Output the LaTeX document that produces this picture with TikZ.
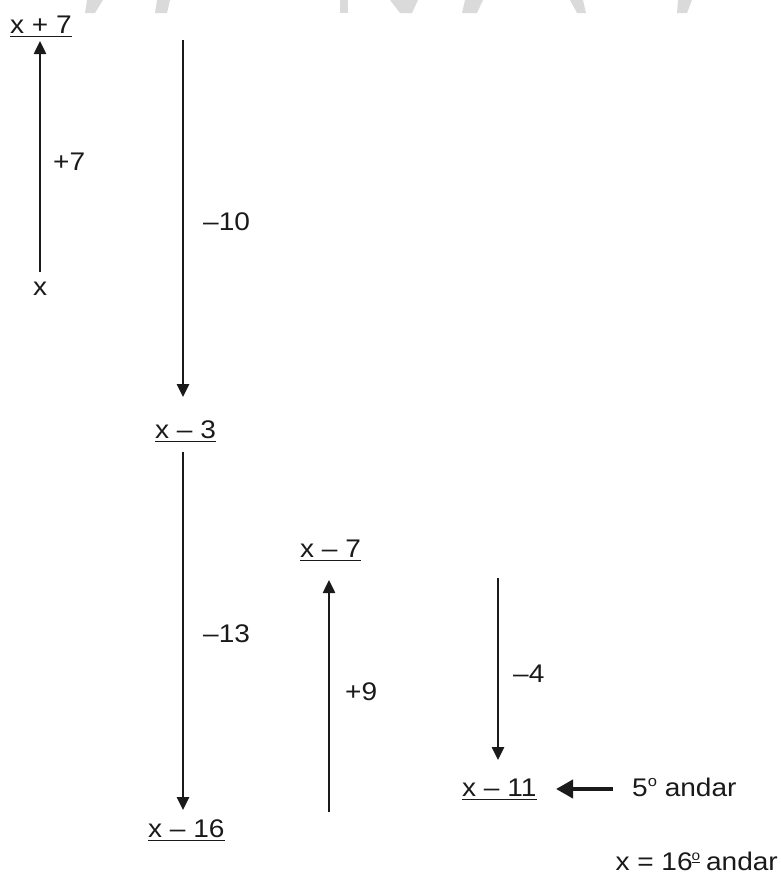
\documentclass[tikz,border=0pt]{standalone}
\usepackage{fontspec}
\setmainfont[FakeStretch=1.1]{Liberation Sans}
\usetikzlibrary{arrows.meta}
\definecolor{ink}{HTML}{1A1A1A}
\definecolor{wm}{HTML}{DADADA}
\begin{document}
\begin{tikzpicture}[x=1pt,y=-1pt,
  lbl/.style={anchor=base west,inner sep=0pt,text=ink,font=\fontsize{25.5}{30}\selectfont},
  uline/.style={draw=ink,line width=1.3pt},
  flow/.style={draw=ink,line width=2.5pt,-{Triangle[length=13pt,width=12pt]}},
  bigarrow/.style={draw=ink,line width=4pt,-{Triangle[length=17pt,width=18pt]}}]
\useasboundingbox (0,0) rectangle (781,879);
% faint watermark fragments
\fill[wm] (87,0) -- (103,0) -- (95,13) -- (85,13) -- cycle;
\fill[wm] (157,0) -- (170,0) -- (167,13) -- (155,13) -- cycle;
\fill[wm] (340,0) -- (348,0) -- (348,13) -- (340,13) -- cycle;
\fill[wm] (390,0) -- (418,0) -- (412,13) -- (400,13) -- cycle;
\fill[wm] (465,0) -- (483,0) -- (477,13) -- (462,13) -- cycle;
\fill[wm] (570,0) -- (583,0) -- (586,13) -- (577,13) -- cycle;
\fill[wm] (678,0) -- (692,0) -- (687,13) -- (677,13) -- cycle;
% values
\node[lbl] (xp7) at (10,33) {x + 7};
\node[lbl] (x) at (33,295) {x};
\node[lbl] (xm3) at (155,438) {x – 3};
\node[lbl] (xm16) at (148,837) {x – 16};
\node[lbl] (xm7) at (300,557) {x – 7};
\node[lbl] (xm11) at (462,796) {x – 11};
\node[lbl] (andar) at (632,796) {5\raisebox{0.38em}{\fontsize{15}{15}\selectfont o} andar};
\node[lbl,anchor=base east] (res) at (778,870) {x = 16\kern-1pt\raisebox{0.38em}{\fontsize{14}{14}\selectfont\underline{o}}\kern-2pt{} andar};
% underlines
\foreach \n in {xp7,xm3,xm16,xm7,xm11}
  \draw[uline] ([yshift=-3.5pt]\n.base west) -- ([yshift=-3.5pt]\n.base east);
% step labels
\node[lbl] (s7) at (53,170) {+7};
\node[lbl] (s10) at (203,230) {–10};
\node[lbl] (s13) at (203,642) {–13};
\node[lbl] (s9) at (345,700) {+9};
\node[lbl] (s4) at (513,682) {–4};
% arrow ends
\coordinate (a1s) at (40,272); \coordinate (a1e) at (40,41);
\coordinate (a2s) at (183,40); \coordinate (a2e) at (183,397);
\coordinate (a3s) at (183,452); \coordinate (a3e) at (183,810);
\coordinate (a4s) at (329,812); \coordinate (a4e) at (329,580);
\coordinate (a5s) at (498,578); \coordinate (a5e) at (498,760);
\coordinate (b1s) at (613,789); \coordinate (b1e) at (556,789);
\draw[flow] (a1s) -- (a1e);
\draw[flow] (a2s) -- (a2e);
\draw[flow] (a3s) -- (a3e);
\draw[flow] (a4s) -- (a4e);
\draw[flow] (a5s) -- (a5e);
\draw[bigarrow] (b1s) -- (b1e);
\end{tikzpicture}
\end{document}
